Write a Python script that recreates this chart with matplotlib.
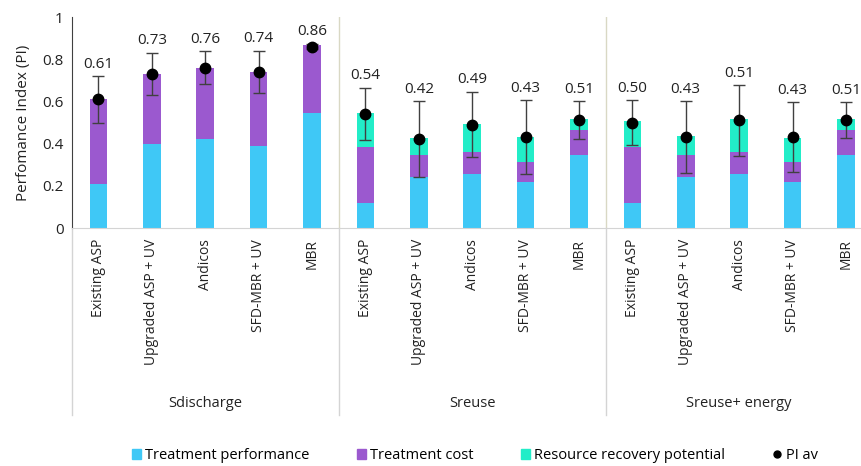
import matplotlib
matplotlib.use("Agg")
import matplotlib.pyplot as plt
from matplotlib.patches import Patch
from matplotlib.lines import Line2D
import numpy as np

plt.rcParams['font.family'] = ['Open Sans', 'DejaVu Sans']

groups = ["Sdischarge", "Sreuse", "Sreuse+ energy"]
options = ["Existing ASP", "Upgraded ASP + UV", "Andicos", "SFD-MBR + UV", "MBR"]

# stacked components, one value per bar (3 groups x 5 options)
perf = [0.208, 0.398, 0.423, 0.387, 0.546,
        0.117, 0.242, 0.254, 0.218, 0.347,
        0.117, 0.242, 0.254, 0.218, 0.347]
cost = [0.403, 0.332, 0.337, 0.353, 0.321,
        0.268, 0.104, 0.105, 0.093, 0.117,
        0.268, 0.104, 0.105, 0.093, 0.117]
recovery = [0, 0, 0, 0, 0,
            0.161, 0.079, 0.135, 0.122, 0.053,
            0.120, 0.089, 0.158, 0.117, 0.053]
pi_av = [0.61, 0.73, 0.76, 0.74, 0.86,
         0.54, 0.42, 0.49, 0.43, 0.51,
         0.50, 0.43, 0.51, 0.43, 0.51]
pi_err = [0.11, 0.10, 0.077, 0.10, 0.012,
          0.125, 0.18, 0.155, 0.175, 0.09,
          0.105, 0.17, 0.167, 0.165, 0.085]

c_perf = "#3FC8F6"
c_cost = "#9B59CF"
c_rec = "#22EDC8"

perf = np.array(perf)
cost = np.array(cost)
recovery = np.array(recovery)
x = np.arange(len(perf))
labels = options * len(groups)

fig = plt.figure(figsize=(8.62, 4.66), dpi=100)
ax = fig.add_axes([0.0833, 0.5107, 0.929, 0.4528])

w = 0.33
ax.bar(x, perf, w, color=c_perf, zorder=2)
ax.bar(x, cost, w, bottom=perf, color=c_cost, zorder=2)
ax.bar(x, recovery, w, bottom=perf + cost, color=c_rec, zorder=2)
ax.errorbar(x, pi_av, yerr=pi_err, fmt="o", color="black", ms=7.5,
            ecolor="#404040", elinewidth=1, capsize=4, capthick=1, zorder=3)

for xi, v, e in zip(x, pi_av, pi_err):
    ax.text(xi, v + e + 0.057, "{0:.2f}".format(v), ha="center", va="center",
            fontsize=11, color="#222222")

ax.set_xlim(-0.5, len(x) - 0.5)
ax.set_ylim(0, 1)
ax.set_yticks([0, 0.2, 0.4, 0.6, 0.8, 1])
ax.set_yticklabels(["0", "0.2", "0.4", "0.6", "0.8", "1"], fontsize=11, color="#222222")
ax.set_ylabel("Perfomance Index (PI)", fontsize=11, color="#222222", labelpad=8)
ax.set_xticks(x)
ax.set_xticklabels(labels, rotation=90, fontsize=10, color="#222222")
ax.tick_params(axis="both", length=0)
ax.tick_params(axis="x", pad=8)
ax.tick_params(axis="y", pad=6)

for s in ["top", "right"]:
    ax.spines[s].set_visible(False)
ax.spines["left"].set_color("#404040")
ax.spines["bottom"].set_color("#D4D4D4")

# group separators
n = len(options)
for g in range(1, len(groups)):
    ax.axvline(g * n - 0.5, color="#D9D8C4", lw=1, zorder=1)
for g in range(len(groups) + 1):
    ax.plot([g * n - 0.5, g * n - 0.5], [0, -0.886], color="#D4D4D4", lw=1,
            transform=ax.get_xaxis_transform(), clip_on=False)
for g, name in enumerate(groups):
    ax.text(g * n + (n - 1) / 2, -0.83, name, ha="center", va="center",
            fontsize=10.5, color="#222222", transform=ax.get_xaxis_transform())

handles = [Patch(color=c_perf), Patch(color=c_cost), Patch(color=c_rec),
           Line2D([], [], ls="", marker="o", color="black", ms=5)]
names = ["Treatment performance", "Treatment cost", "Resource recovery potential", "PI av"]
fig.legend(handles, names, loc="center", bbox_to_anchor=(0.551, 0.022), ncol=4,
           frameon=False, fontsize=10.5, handlelength=0.6, handleheight=0.6,
           handletextpad=0.3, columnspacing=3.25)

fig.savefig("out.png", dpi=100)
